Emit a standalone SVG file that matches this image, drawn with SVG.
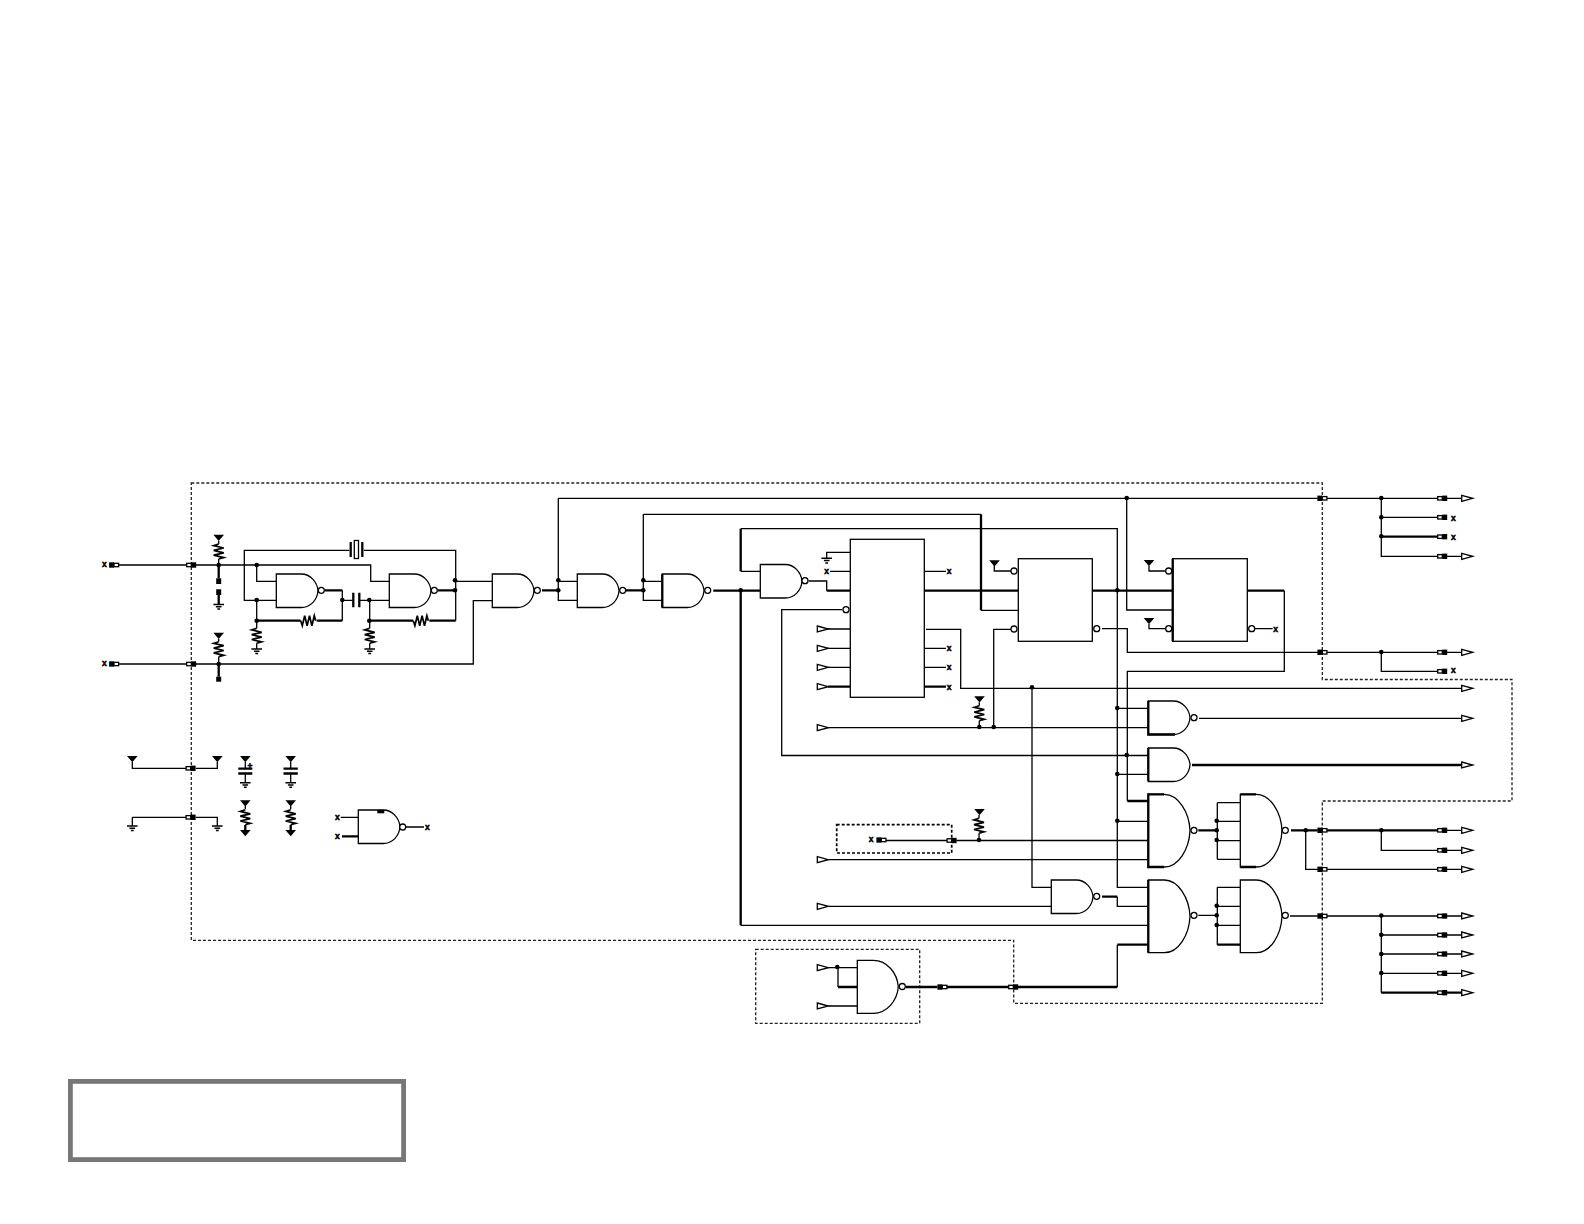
<svg xmlns="http://www.w3.org/2000/svg" width="1584" height="1224" viewBox="0 0 1584 1224">
<style>
.w{fill:none;stroke:#000;stroke-width:1.3}
.t{fill:none;stroke:#000;stroke-width:2.3}
.b{fill:#fff;stroke:#000;stroke-width:1.3}
.d{fill:none;stroke:#222;stroke-width:1.3;stroke-dasharray:3 2}
.dk{fill:none;stroke:#000;stroke-width:1.7;stroke-dasharray:3 2}
.k{fill:#000;stroke:none}
.r{fill:none;stroke:#000;stroke-width:1.7}
.g{fill:none;stroke:#000;stroke-width:1.5}
.x{font:bold 8.5px "Liberation Sans",Arial,sans-serif;text-anchor:middle;fill:#000;stroke:#000;stroke-width:.5}
</style>
<defs>
<path id="nand" class="b" d="M0 0H25C34 0 41 8 41.7 16.7C41 26 34 33.5 25 33.5H0Z"/>
<path id="bigand" class="b" d="M0 0H16C30 0 41 18 41.7 36.3C41 55 30 72.7 16 72.7H0Z"/>
<path id="midand" class="b" d="M0 0H16C30 0 40 13 41 26.5C40 40 30 53 16 53H0Z"/>
<circle id="bub" class="b" r="3"/>
<circle id="j" class="k" r="2.3"/>
<path id="in" class="b" d="M0 -3L11 0L0 3Z"/>
<path id="vcc" class="k" d="M-5.3 0H5.3L0 6.3Z"/>
<g id="gnd"><path class="g" d="M-5.3 0H5.3M-2.8 2.3H2.8M-1.4 4.6H1.4"/></g>
<path id="res" class="r" d="M0 0L-5 1.6L5 4L-5 6.4L5 8.8L-5 11.2L5 13.6L0 15"/>
<g id="cwb"><rect class="b" x="-4.6" y="-1.7" width="4.6" height="3.4"/><rect class="k" x="0" y="-2.7" width="4.9" height="5.4"/></g>
<g id="cbw"><rect class="k" x="-4.9" y="-2.7" width="4.9" height="5.4"/><rect class="b" x="0" y="-1.7" width="4.6" height="3.4"/></g>
</defs>
<rect width="1584" height="1224" fill="#fff"/>

<g id="boundaries">
<path class="d" d="M191.3 483H1322.3V679.5H1512V801H1322.3V1003.3H1013.7V940.3H191.3Z"/>
<path class="dk" d="M836.7 824.7H951.7V853H836.7Z"/>
<path class="d" d="M755.7 949.3H919.7V1023.3H755.7Z"/>
</g>

<g id="connectors">
<path class="w" d="M118.7 565H186.7M196 565H370.7V581.3H389.3M118.7 664H186.7M196 664H473.3V600.7H492.3
M218.7 541V544M218.7 559V565M218.7 639V641.7M218.7 656.7V664
M276.3 600.3H244.3V550.3H349.3M363.7 550.3H455.7V620.7
M256.7 565V581.3H276.3M256.7 600.3V628.3M256.7 643.3V649
M342.3 590.3V620.7
M342.3 600.3H352.7M359.7 600.3H389.3M369.7 600.3V628.3M369.7 643.3V649
M455.7 581.3H492.3
M558.3 498.3V600.3H577.3M558.3 581.3H577.3M558.3 498.3H1317.7
M643.3 514.3V600.3H662.3M643.3 581.3H662.3M643.3 514.3H981
M740.7 925.3H1148.3M740.7 528.7H1117.3V887.3H1148.3M740.7 571.3H760.3
M808.7 581H826.7V590.7
M850.3 552.3H826.7V558.3M830 571.3H850.3M924.3 571.3H946
M842.3 609.7H781.7V755.5H1148.3
M828 629H850.3M828 648.3H850.3M828 667.3H850.3
M926 629.3H960.7V688.3H1461.7M924.3 648.3H946M924.3 667.3H946
M828.3 727.7H1148.3M979.3 702.3V705.7M979.3 720.7V727.7
M993.7 727.7V629.3H1011M1011 571H994.3V565
M981 610.3H1018.3
M1102 628.7H1127.3V652.3H1317.7
M1126.7 498.3V610H1172.7
M1165.7 571H1149V566M1165.7 628.7H1149V624
M1284.3 590.7V671.3H1127.3V801
M1254.7 628.7H1272.7
M1327 498.3H1438.3M1381.3 498.3V556.3H1438.3M1381.3 517.3H1438.3M1447 498.3H1461.7M1447 556.3H1461.7
M1327 652.3H1438.3M1447 652.3H1461.7M1381.3 652.3V671.3H1438.3
M1117.3 708.3H1148.3M1117.3 774.3H1148.3M1199 718.3H1461.7
M1117.3 821.3H1148.3
M1217.3 802.7V859.3M1217.3 802.7H1240.3M1217.3 821.3H1240.3M1217.3 840.7H1240.3M1217.3 859.3H1240.3
M1305.7 830.3V869.3H1317.7M1447 830.3H1461.7M1381.3 830.3V850.3H1438.3M1447 850.3H1461.7M1327 869.3H1438.3M1447 869.3H1461.7
M956.3 840.5H1148.3M885.7 840.5H947.3M979 815V818.3M979 833.3V840.5
M828.3 859.7H1148.3M828.3 906.3H1051.3M1032 688.3V887.3H1051.3
M1117.3 896.7V906.3H1148.3
M1198.3 915.3H1217M1217.3 887.3V944.7M1217.3 887.3H1240.3M1217.3 906.3H1240.3M1217.3 925.3H1240.3
M1290 916H1317.7M1327 916H1438.3M1381.3 916V992.7
M1381.3 935H1438.3M1381.3 954H1438.3M1381.3 973.3H1438.3
M1447 916H1461.7M1447 935H1461.7M1447 954H1461.7M1447 973.3H1461.7
M828.3 967.7H857.3M838 967.7V987M828.3 1006H857.3
M1117.3 944.7V987
M132.3 762V768.3H186M195.7 768.3H217.3V762M132.3 817.3H186M195.7 817.3H217.3V826M132.3 817.3V826
M340.7 817.3H358.3M406 827H424
M245.3 762V768M245.3 773V782.7M290.7 762V768M290.7 773V782.7M245.3 806V809.3M290.7 806V809.3"/>
<path class="t" d="M218.7 565V578.3M218.7 595V604.3M218.7 664V676.7
M300.7 620.7H256.7M324.7 590.3H342.3M342.3 620.7H316.7
M369.7 620.7H413.3M429.3 620.7H455.7M437.7 590.3H455.7
M542 590.3H558.3M626 590.3H643.3M713.3 590.7H760.3
M740.7 528.7V571.3M740.7 590.7V925.3
M826.7 590.7H850.3M924.3 590.7H1018.3M981 514.3V610.3
M828 686.7H850.3M924.3 686.7H946
M1092.3 590.7H1172.7M1247.3 590.7H1284.3
M1127.3 801H1148.3M1381.3 536.7H1438.3M1192 765H1461.7
M1198.3 830.3H1217M1291 830.3H1317.7M1327 830.3H1438.3
M1102 896.7H1117.3M1217.3 944.7H1240.3
M1148.3 944.7H1117.3M1117.3 987H1018M1008.7 987H946.7M906 987H937.3M838 987H857.3
M1381.3 992.7H1438.3M1447 992.7H1461.7
M342 836.3H358.3
M245.3 825V830M290.7 825V830"/>
</g>

<g id="junctions">
<use href="#j" x="218.7" y="565"/><use href="#j" x="218.7" y="664"/><use href="#j" x="256.7" y="565"/><use href="#j" x="256.7" y="600"/><use href="#j" x="256.7" y="620.7"/><use href="#j" x="342.3" y="600"/><use href="#j" x="369.3" y="600"/><use href="#j" x="369.3" y="620.7"/><use href="#j" x="455" y="580.3"/><use href="#j" x="455" y="590.3"/>
<use href="#j" x="558.3" y="580.3"/><use href="#j" x="558.3" y="590.3"/><use href="#j" x="643.3" y="580.3"/><use href="#j" x="643.3" y="590.3"/><use href="#j" x="740.7" y="590.3"/>
<use href="#j" x="979.3" y="727"/><use href="#j" x="993.7" y="727"/><use href="#j" x="1032" y="687.3"/><use href="#j" x="1117.3" y="590.3"/><use href="#j" x="1117.3" y="708"/><use href="#j" x="1126.7" y="498"/>
<use href="#j" x="1126.7" y="755"/><use href="#j" x="1117.3" y="774"/><use href="#j" x="1117.3" y="820.7"/>
<use href="#j" x="1381.3" y="498"/><use href="#j" x="1381.3" y="517.3"/><use href="#j" x="1381.3" y="536.3"/><use href="#j" x="1381.3" y="652"/>
<use href="#j" x="1216.7" y="820.7"/><use href="#j" x="1216.7" y="830.3"/><use href="#j" x="1216.7" y="840"/><use href="#j" x="1216.7" y="905.7"/><use href="#j" x="1216.7" y="915.3"/><use href="#j" x="1216.7" y="925"/>
<use href="#j" x="1305.7" y="830.3"/><use href="#j" x="1381.3" y="830.3"/><use href="#j" x="1381.3" y="915.5"/><use href="#j" x="1381.3" y="934.7"/><use href="#j" x="1381.3" y="954"/><use href="#j" x="1381.3" y="973"/>
<use href="#j" x="979" y="840"/><use href="#j" x="837.3" y="967"/>
</g>

<g id="gate1"><use href="#nand" x="276.3" y="574"/><use href="#bub" x="321.3" y="590.3"/></g>
<g id="gate2"><use href="#nand" x="389.3" y="574"/><use href="#bub" x="434.3" y="590.3"/></g>
<g id="gate3"><use href="#nand" x="492.3" y="574"/><use href="#bub" x="537.3" y="590.3"/></g>
<g id="gate4"><use href="#nand" x="577.3" y="574"/><use href="#bub" x="622.7" y="590.3"/></g>
<g id="gate5"><use href="#nand" x="662.3" y="574"/><use href="#bub" x="707.7" y="590.3"/><path class="t" d="M662.3 574V607.5"/></g>
<g id="gate6"><use href="#nand" x="760.3" y="564.5"/><use href="#bub" x="805" y="580.7"/></g>
<g id="gate7"><use href="#nand" x="1148.3" y="701"/><use href="#bub" x="1194" y="717.7"/><path class="t" d="M1148.3 701V734.5H1175"/></g>
<g id="gate8"><use href="#nand" x="1148.3" y="748"/><path class="t" d="M1148.3 748V781"/></g>
<g id="gate9"><use href="#bigand" x="1148.3" y="794.3"/><use href="#bub" x="1194" y="830.3"/><path class="t" d="M1164 794.3H1148.3V867H1164"/></g>
<g id="gate10"><use href="#bigand" x="1148.3" y="880"/><use href="#bub" x="1194" y="915.3"/><path class="t" d="M1148.3 880V952.7"/></g>
<g id="gate11"><use href="#bigand" x="1240.3" y="794.3"/><use href="#bub" x="1285.3" y="830.3"/><path class="t" d="M1256 794.3H1240.3M1240.3 867H1256"/></g>
<g id="gate12"><use href="#bigand" x="1240.3" y="880"/><use href="#bub" x="1285.3" y="915.3"/></g>
<g id="gate13"><use href="#nand" x="1051.3" y="880"/><use href="#bub" x="1096.7" y="896.3"/></g>
<g id="gate14"><use href="#midand" x="857.3" y="960.3"/><use href="#bub" x="902.3" y="986.5"/></g>
<g id="gate15"><use href="#nand" x="358.3" y="810"/><rect class="k" x="377.3" y="810" width="7" height="3.3"/><use href="#bub" x="402.7" y="827"/></g>

<g id="block1"><rect class="b" x="850.3" y="539.3" width="74" height="158"/><use href="#bub" x="846" y="609.7"/></g>
<g id="block2"><rect class="b" x="1018.3" y="558.7" width="74" height="82.6"/><use href="#bub" x="1014" y="571"/><use href="#bub" x="1014" y="629"/><use href="#bub" x="1096.7" y="628.7"/></g>
<g id="block3"><rect class="b" x="1172.7" y="558.7" width="74.6" height="82.6"/><path class="t" d="M1172.7 558.7V641.3"/><use href="#bub" x="1168.7" y="571"/><use href="#bub" x="1168.7" y="628.7"/><use href="#bub" x="1251.7" y="628.7"/></g>

<g id="crystal"><path class="t" d="M350.7 542V557M362.3 542V557"/><rect class="b" x="354.3" y="540.5" width="4.2" height="18"/></g>
<g id="cap1"><path class="t" d="M353.3 592.7V607.3M359.3 592.7V607.3"/></g>

<g id="resistors">
<use href="#res" x="218.7" y="544"/><use href="#res" x="218.7" y="641.7"/><use href="#res" x="256.7" y="628.3"/><use href="#res" x="369.7" y="628.3"/><use href="#res" x="979.3" y="705.7"/><use href="#res" x="979" y="818.3"/><use href="#res" x="245.3" y="809.8"/><use href="#res" x="290.7" y="809.8"/>
<use href="#res" transform="translate(300.7 620.7) rotate(-90)"/><use href="#res" transform="translate(413.3 620.7) rotate(-90)"/>
</g>

<g id="power">
<use href="#vcc" x="218.7" y="534.7"/><use href="#vcc" x="218.7" y="632.7"/><use href="#vcc" x="994.5" y="560.3"/><use href="#vcc" x="1149" y="560"/><use href="#vcc" x="1149" y="618"/><use href="#vcc" x="979.5" y="696.3"/><use href="#vcc" x="979.5" y="809"/>
<use href="#vcc" x="132.3" y="756"/><use href="#vcc" x="217.3" y="756"/><use href="#vcc" x="245.3" y="756"/><use href="#vcc" x="290.7" y="756"/><use href="#vcc" x="245.3" y="800.3"/><use href="#vcc" x="290.7" y="800.3"/>
<use href="#vcc" x="245.3" y="830"/><use href="#vcc" x="290.7" y="830"/>
<use href="#gnd" x="218.7" y="604.5"/><use href="#gnd" x="256.7" y="649"/><use href="#gnd" x="369.7" y="649"/><use href="#gnd" x="826.7" y="558.3"/><use href="#gnd" x="132.3" y="826"/><use href="#gnd" x="217.3" y="826"/><use href="#gnd" x="245.3" y="782.7"/><use href="#gnd" x="290.7" y="782.7"/>
<rect class="k" x="216.2" y="578.3" width="5" height="5.7"/><rect class="k" x="216.2" y="589.3" width="5" height="5.7"/><rect class="k" x="216.2" y="676.7" width="5" height="5"/>
<path class="t" d="M238.3 768.7H252.3M238.3 773.5H252.3M283.5 768.7H297.8M283.5 773.5H297.8"/>
</g>

<g id="ports">
<use href="#cbw" x="114" y="565"/><use href="#cbw" x="114" y="664"/><use href="#cwb" x="191.3" y="565"/><use href="#cwb" x="191.3" y="664"/><use href="#cwb" x="190.7" y="768.3"/><use href="#cwb" x="190.7" y="817.3"/>
<use href="#cbw" x="1322.3" y="498.3"/><use href="#cbw" x="1322.3" y="652.3"/><use href="#cbw" x="1322.3" y="830.3"/><use href="#cbw" x="1322.3" y="869.3"/><use href="#cbw" x="1322.3" y="916"/>
<use href="#cwb" x="1442.3" y="498.3"/><use href="#cwb" x="1442.3" y="517.3"/><use href="#cwb" x="1442.3" y="536.7"/><use href="#cwb" x="1442.3" y="556.3"/><use href="#cwb" x="1442.3" y="652.3"/><use href="#cwb" x="1442.3" y="671.3"/><use href="#cwb" x="1442.3" y="830.3"/><use href="#cwb" x="1442.3" y="850.3"/><use href="#cwb" x="1442.3" y="869.3"/><use href="#cwb" x="1442.3" y="916"/><use href="#cwb" x="1442.3" y="935"/><use href="#cwb" x="1442.3" y="954"/><use href="#cwb" x="1442.3" y="973.3"/><use href="#cwb" x="1442.3" y="992.7"/>
<use href="#cbw" x="881.3" y="840"/><use href="#cwb" x="951.7" y="840.5"/><use href="#cbw" x="942.3" y="987"/><use href="#cwb" x="1013.3" y="987"/>
</g>

<g id="inputs">
<use href="#in" x="817.3" y="629"/><use href="#in" x="817.3" y="648.3"/><use href="#in" x="817.3" y="667.3"/><use href="#in" x="817.3" y="686.7"/><use href="#in" x="817.3" y="727.7"/><use href="#in" x="817.3" y="859.7"/><use href="#in" x="817.3" y="906.3"/><use href="#in" x="817.3" y="967.7"/><use href="#in" x="817.3" y="1006"/>
</g>
<g id="outputs">
<use href="#in" x="1461.7" y="498.3"/><use href="#in" x="1461.7" y="556.3"/><use href="#in" x="1461.7" y="652.3"/><use href="#in" x="1461.7" y="688.3"/><use href="#in" x="1461.7" y="718.3"/><use href="#in" x="1461.7" y="765"/><use href="#in" x="1461.7" y="830.3"/><use href="#in" x="1461.7" y="850.3"/><use href="#in" x="1461.7" y="869.3"/><use href="#in" x="1461.7" y="916"/><use href="#in" x="1461.7" y="935"/><use href="#in" x="1461.7" y="954"/><use href="#in" x="1461.7" y="973.3"/><use href="#in" x="1461.7" y="992.7"/>
</g>

<g id="marks">
<text class="x" x="104.3" y="567.2">x</text><text class="x" x="104.3" y="666.2">x</text><text class="x" x="826.7" y="573.5">x</text><text class="x" x="949" y="574">x</text><text class="x" x="949" y="651">x</text><text class="x" x="949" y="670">x</text><text class="x" x="949" y="689.5">x</text>
<text class="x" x="1453.3" y="520.5">x</text><text class="x" x="1453.3" y="539.7">x</text><text class="x" x="1453.3" y="672.8">x</text><text class="x" x="1275.7" y="632">x</text><text class="x" x="871" y="842.2">x</text>
<text class="x" x="337.3" y="819.5">x</text><text class="x" x="337.3" y="838.5">x</text><text class="x" x="427.3" y="829.8">x</text>
<text class="x" x="250" y="769">+</text>
</g>

<g id="title-box"><rect x="70.4" y="1081.4" width="333.2" height="78.2" fill="#fff" stroke="#777" stroke-width="4.8"/></g>
</svg>
